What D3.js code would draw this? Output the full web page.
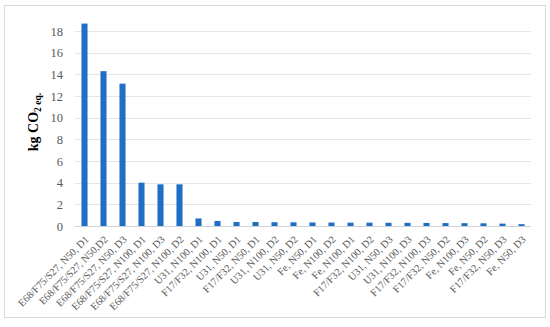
<!DOCTYPE html>
<html>
<head>
<meta charset="utf-8">
<script src="https://cdn.jsdelivr.net/npm/d3@7"></script>
<style>
  body { margin: 0; background: #fff; }
  svg text { font-family: "Liberation Serif", "Times New Roman", serif; }
</style>
</head>
<body>
<div id="chart"></div>
<script>
// data
var categories = [
  'E68/F75/S27, N50, D1', 'E68/F75/S27, N50,D2', 'E68/F75/S27, N50, D3',
  'E68/F75/S27, N100, D1', 'E68/F75/S27, N100, D3', 'E68/F75/S27, N100, D2',
  'U31, N100, D1', 'F17/F32, N100, D1', 'U31, N50, D1', 'F17/F32, N50, D1',
  'U31, N100, D2', 'U31, N50, D2', 'Fe, N50, D1', 'Fe, N100, D2', 'Fe, N100, D1',
  'F17/F32, N100, D2', 'U31, N50, D3', 'U31, N100, D3', 'F17/F32, N100, D3',
  'F17/F32, N50, D2', 'Fe, N100, D3', 'Fe, N50, D2', 'F17/F32, N50, D3', 'Fe, N50, D3'
];
var values = [18.7, 14.3, 13.15, 4.0, 3.85, 3.85, 0.7, 0.46, 0.37, 0.37,
  0.35, 0.34, 0.33, 0.32, 0.31, 0.31, 0.3, 0.29, 0.28, 0.27, 0.26, 0.25, 0.22, 0.17];
var yTicks = [0, 2, 4, 6, 8, 10, 12, 14, 16, 18];

var width = 550, height = 327;
var margin = {top: 10, right: 19, bottom: 101, left: 75};

var svg = d3.select('#chart').append('svg')
  .attr('width', width)
  .attr('height', height);

// outer frame
svg.append('rect')
  .attr('x', 4.5).attr('y', 5.5)
  .attr('width', 541).attr('height', 312)
  .attr('fill', 'none')
  .attr('stroke', '#d9d9d9');

var x = d3.scaleBand()
  .domain(categories)
  .range([margin.left, width - margin.right])
  .paddingInner(0.68)
  .paddingOuter(0.34);

var y = d3.scaleLinear()
  .domain([0, 20])
  .range([height - margin.bottom, 9.5]);

// gridlines
svg.append('g')
  .selectAll('line')
  .data(yTicks)
  .enter()
  .append('line')
  .attr('x1', margin.left)
  .attr('x2', width - margin.right)
  .attr('y1', function(d) { return Math.round(y(d)) + 0.5; })
  .attr('y2', function(d) { return Math.round(y(d)) + 0.5; })
  .attr('stroke', function(d) { return d === 0 ? '#d0d0d0' : '#e6e6e6'; })
  .attr('stroke-width', 1);

// y axis labels
var yAxis = d3.axisLeft(y).tickValues(yTicks).tickSize(0).tickPadding(12);
svg.append('g')
  .attr('transform', 'translate(' + margin.left + ',0)')
  .call(yAxis)
  .call(function(g) { g.select('.domain').remove(); })
  .selectAll('text')
  .attr('fill', '#595959')
  .style('font-size', '12.5px');

// bars
svg.append('g')
  .selectAll('rect')
  .data(values)
  .enter()
  .append('rect')
  .attr('x', function(d, i) { return x(categories[i]); })
  .attr('y', function(d) { return y(d); })
  .attr('width', x.bandwidth())
  .attr('height', function(d) { return y(0) - y(d); })
  .attr('fill', '#1f6fc5');

// x labels rotated
var xAxis = d3.axisBottom(x).tickSize(0).tickPadding(0);
svg.append('g')
  .attr('transform', 'translate(0,' + y(0) + ')')
  .call(xAxis)
  .call(function(g) { g.select('.domain').remove(); })
  .selectAll('text')
  .attr('fill', '#595959')
  .style('font-size', '10.3px')
  .attr('text-anchor', 'end')
  .attr('dy', '0')
  .attr('transform', 'translate(5,14) rotate(-45)');

// y title
var title = svg.append('text')
  .attr('transform', 'translate(38,' + (y(9.6)) + ') rotate(-90)')
  .attr('text-anchor', 'middle')
  .attr('fill', '#000')
  .style('font-size', '14px')
  .style('font-weight', 'bold');
title.append('tspan').text('kg CO');
title.append('tspan').attr('dy', 3).style('font-size', '9.5px').text('2 eq.');
</script>
</body>
</html>
